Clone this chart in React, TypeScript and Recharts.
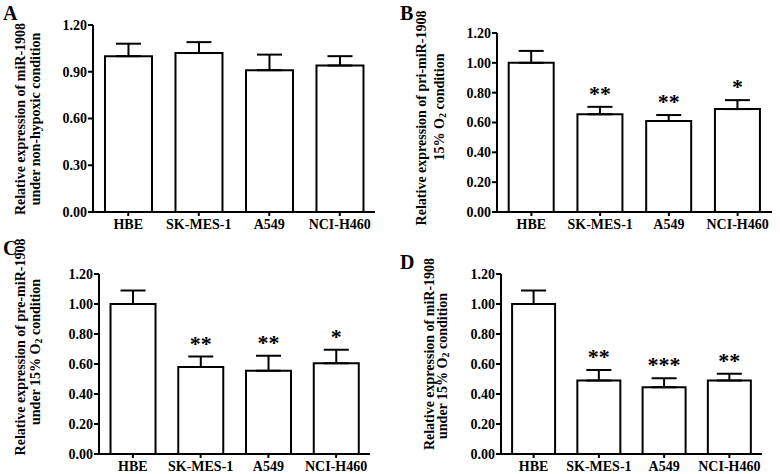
import React from 'react';
import { BarChart, Bar, XAxis, YAxis, ErrorBar, LabelList } from 'recharts';

const categories = ['HBE', 'SK-MES-1', 'A549', 'NCI-H460'];

const valuesA = [1.0, 1.02, 0.91, 0.94];
const errorsA = [0.08, 0.07, 0.1, 0.06];
const sigA = ['', '', '', ''];

const valuesB = [1.0, 0.655, 0.61, 0.69];
const errorsB = [0.08, 0.05, 0.04, 0.06];
const sigB = ['', '**', '**', '*'];

const valuesC = [1.0, 0.58, 0.555, 0.605];
const errorsC = [0.09, 0.07, 0.1, 0.09];
const sigC = ['', '**', '**', '*'];

const valuesD = [1.0, 0.49, 0.445, 0.49];
const errorsD = [0.09, 0.07, 0.06, 0.045];
const sigD = ['', '**', '***', '**'];

const ticksA = [0, 0.3, 0.6, 0.9, 1.2];
const ticksBCD = [0, 0.2, 0.4, 0.6, 0.8, 1.0, 1.2];

const FONT = '"Liberation Serif", "Times New Roman", serif';

type Row = { name: string; value: number; err: number[]; errUp: number; sig: string };

function build(values: number[], errors: number[], sig: string[]): Row[] {
  return categories.map((c, i) => ({
    name: c,
    value: values[i],
    err: [0, errors[i]],
    errUp: errors[i],
    sig: sig[i],
  }));
}

const makeSigRenderer = (rows: Row[]) => (props: any) => {
  const vb = props.viewBox || {};
  const x = props.x ?? vb.x;
  const y = props.y ?? vb.y;
  const width = props.width ?? vb.width;
  const height = props.height ?? vb.height;
  const idx = props.index;
  const row = rows[idx];
  const label = row ? row.sig : props.value;
  if (!label || !row) return null;
  const h = Math.abs(height);
  const top = height >= 0 ? y : y + height;
  const pxPerUnit = h / row.value;
  const errTop = top - row.errUp * pxPerUnit;
  return (
    <text
      x={x + width / 2}
      y={errTop - 6}
      textAnchor="middle"
      fontFamily={FONT}
      fontWeight="bold"
      fontSize={22}
      fill="#000"
    >
      {label}
    </text>
  );
};

type PanelProps = {
  left: number;
  top: number;
  plotLeft: number;
  plotRight: number;
  plotTop: number;
  plotBottom: number;
  rows: Row[];
  ticks: number[];
};

function Panel({ left, top, plotLeft, plotRight, plotTop, plotBottom, rows, ticks }: PanelProps) {
  const W = 390;
  const H = 237;
  return (
    <div style={{ position: 'absolute', left, top, width: W, height: H }}>
      <BarChart
        width={W}
        height={H}
        data={rows}
        margin={{ top: plotTop, right: W - plotRight, bottom: 0, left: 0 }}
        barCategoryGap="17%"
      >
        <XAxis
          dataKey="name"
          interval={0}
          height={H - plotBottom}
          axisLine={{ stroke: '#000', strokeWidth: 2 }}
          tickLine={{ stroke: '#000', strokeWidth: 2 }}
          tickSize={4}
          tickMargin={3}
          tick={{ fill: '#000', fontSize: 14, fontWeight: 'bold', fontFamily: FONT }}
        />
        <YAxis
          width={plotLeft}
          domain={[0, 1.2]}
          ticks={ticks}
          interval={0}
          tickFormatter={(v: number) => v.toFixed(2)}
          axisLine={{ stroke: '#000', strokeWidth: 2 }}
          tickLine={{ stroke: '#000', strokeWidth: 2 }}
          tickSize={5}
          tickMargin={1}
          tick={{ fill: '#000', fontSize: 14, fontWeight: 'bold', fontFamily: FONT }}
        />
        <Bar dataKey="value" fill="#fff" stroke="#000" strokeWidth={2} isAnimationActive={false}>
          <ErrorBar dataKey="err" width={12.5} stroke="#000" strokeWidth={2} direction="y" />
          <LabelList dataKey="sig" content={makeSigRenderer(rows)} />
        </Bar>
      </BarChart>
    </div>
  );
}

function VText({ x, y, children, size = 14 }: { x: number; y: number; children: React.ReactNode; size?: number }) {
  return (
    <text
      transform={`translate(${x},${y}) rotate(-90)`}
      textAnchor="middle"
      dominantBaseline="central"
      fontFamily={FONT}
      fontWeight="bold"
      fontSize={size}
      fill="#000"
    >
      {children}
    </text>
  );
}

function Sub() {
  return (
    <tspan fontSize={10} dy={3}>
      2
    </tspan>
  );
}

export default function App() {
  const dataA = build(valuesA, errorsA, sigA);
  const dataB = build(valuesB, errorsB, sigB);
  const dataC = build(valuesC, errorsC, sigC);
  const dataD = build(valuesD, errorsD, sigD);
  return (
    <div style={{ position: 'absolute', left: 0, top: 0, width: 780, height: 474, background: '#fff', overflow: 'hidden' }}>
      <Panel left={0} top={0} plotLeft={93} plotRight={375} plotTop={25} plotBottom={212} rows={dataA} ticks={ticksA} />
      <Panel left={390} top={0} plotLeft={107} plotRight={382} plotTop={33} plotBottom={212} rows={dataB} ticks={ticksBCD} />
      <Panel left={0} top={237} plotLeft={99} plotRight={370} plotTop={37} plotBottom={217} rows={dataC} ticks={ticksBCD} />
      <Panel left={390} top={237} plotLeft={111} plotRight={372} plotTop={37} plotBottom={217} rows={dataD} ticks={ticksBCD} />
      <svg width={780} height={474} style={{ position: 'absolute', left: 0, top: 0, pointerEvents: 'none' }}>
        <text x={3} y={20} fontFamily={FONT} fontWeight="bold" fontSize={20} fill="#000">A</text>
        <text x={400} y={20} fontFamily={FONT} fontWeight="bold" fontSize={20} fill="#000">B</text>
        <text x={3} y={255} fontFamily={FONT} fontWeight="bold" fontSize={20} fill="#000">C</text>
        <text x={400} y={269} fontFamily={FONT} fontWeight="bold" fontSize={20} fill="#000">D</text>

        <VText x={20} y={119}>Relative expression of miR-1908</VText>
        <VText x={35} y={119}>under non-hypoxic condition</VText>

        <VText x={421} y={118}>Relative expression of pri-miR-1908</VText>
        <VText x={439} y={107}>
          15% O<Sub />
          <tspan dy={-3}> condition</tspan>
        </VText>

        <VText x={20} y={347}>Relative expression of pre-miR-1908</VText>
        <VText x={35} y={352}>
          under 15% O<Sub />
          <tspan dy={-3}> condition</tspan>
        </VText>

        <VText x={429} y={354}>Relative expression of miR-1908</VText>
        <VText x={442} y={366}>
          under 15% O<Sub />
          <tspan dy={-3}> condition</tspan>
        </VText>
      </svg>
    </div>
  );
}
